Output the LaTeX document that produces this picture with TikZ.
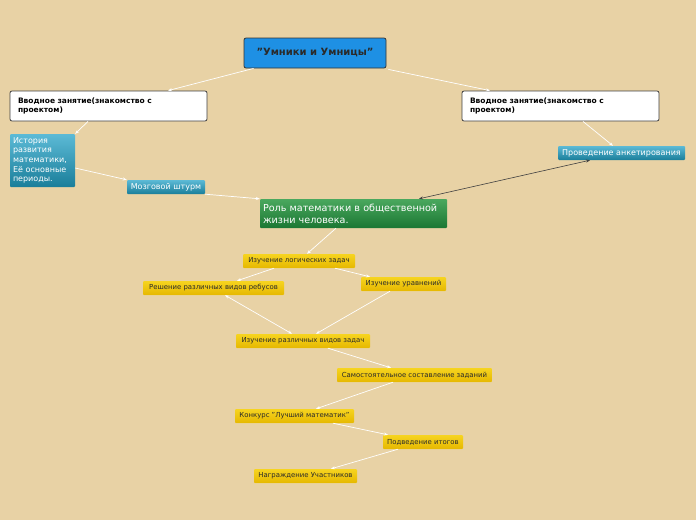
\documentclass[tikz,border=0pt]{standalone}
\usepackage{fontspec}
\setmainfont{DejaVu Sans}
\usetikzlibrary{arrows.meta}
\definecolor{bg}{HTML}{E8D2A5}
\definecolor{rootblue}{HTML}{1E90E4}
\definecolor{tealtop}{HTML}{5CBAD6}
\definecolor{tealbot}{HTML}{1A7E9A}
\definecolor{greentop}{HTML}{4AA85E}
\definecolor{greenbot}{HTML}{1B7733}
\definecolor{yeltop}{HTML}{F6D420}
\definecolor{yelbot}{HTML}{E6B800}
\definecolor{darktxt}{HTML}{2A2A2A}
\tikzset{
  rootbox/.style={draw=black!80, line width=0.8pt, fill=rootblue, rounded corners=2pt, minimum width=142pt, minimum height=30pt, inner sep=0pt, font=\bfseries\fontsize{10}{12}\selectfont, text=darktxt},
  introbox/.style={draw=black!75, line width=0.8pt, fill=white, rounded corners=2pt, minimum width=197pt, minimum height=30pt, inner xsep=8pt, inner ysep=0pt, text width=181pt, align=left, font=\bfseries\fontsize{7.5}{9.5}\selectfont, text=black},
  tealbox/.style={top color=tealtop, bottom color=tealbot, draw=none, rounded corners=1pt, inner sep=0pt, text=white, font=\fontsize{8}{9.7}\selectfont},
  greenbox/.style={top color=greentop, bottom color=greenbot, draw=none, rounded corners=1pt, inner sep=0pt, text=white, font=\fontsize{9.6}{12}\selectfont},
  yelbox/.style={top color=yeltop, bottom color=yelbot, draw=none, rounded corners=1pt, minimum height=14pt, inner sep=0pt, text=darktxt, font=\fontsize{6.9}{8}\selectfont,
    path picture={\draw[yeltop!35!white, line width=1pt] (path picture bounding box.south west) -- (path picture bounding box.south east);}},
  link/.style={draw=white, line width=0.7pt, -{Stealth[length=4pt,width=3pt]}},
  dlink/.style={draw=white, line width=0.7pt, {Stealth[length=4pt,width=3pt]}-{Stealth[length=4pt,width=3pt]}},
  darklink/.style={draw=black!75, line width=0.6pt, {Stealth[length=4pt,width=3pt]}-{Stealth[length=4pt,width=3pt]}}
}
\begin{document}
\begin{tikzpicture}[x=1pt,y=-1pt]
\fill[bg] (0,0) rectangle (696,520);
\useasboundingbox (0,0) rectangle (696,520);

\node[rootbox] (root) at (315,53) {"Умники и Умницы"};
\node[introbox] (introL) at (108.5,106) {Вводное занятие(знакомство с\\проектом)};
\node[introbox] (introR) at (560.5,106) {Вводное занятие(знакомство с\\проектом)};

\node[tealbox, minimum width=65pt, minimum height=53pt, text width=59pt, align=left] (hist) at (42.5,160.5) {История\\развития\\математики,\\Её основные\\периоды.};
\node[tealbox, minimum width=78pt, minimum height=14pt] (brain) at (166,187) {Мозговой штурм};
\node[tealbox, minimum width=127pt, minimum height=14pt] (survey) at (621.5,153) {Проведение анкетирования};

\node[greenbox, minimum width=187pt, minimum height=29pt, text width=181pt, align=left] (role) at (353.5,213.5) {Роль математики в общественной\\жизни человека.};

\node[yelbox, minimum width=112pt] (logic) at (299,261) {Изучение логических задач};
\node[yelbox, minimum width=141pt] (rebus) at (213.5,288) {Решение различных видов ребусов};
\node[yelbox, minimum width=85pt] (equ) at (403.5,284) {Изучение уравнений};
\node[yelbox, minimum width=134pt] (tasks) at (303,341) {Изучение различных видов задач};
\node[yelbox, minimum width=155pt] (self) at (414.5,375) {Самостоятельное составление заданий};
\node[yelbox, minimum width=119pt] (contest) at (294.5,416) {Конкурс "Лучший математик"};
\node[yelbox, minimum width=80pt] (sum) at (423,442) {Подведение итогов};
\node[yelbox, minimum width=103pt] (award) at (305.5,476) {Награждение Участников};

\draw[link] (root.south west) ++(10,0) -- (introL.north -| 168,0);
\draw[link] (root.south east) ++(2,1) -- (introR.north -| 490,0);
\draw[link] (introL.south -| 88,0) -- (hist.north east);
\draw[link] (introR.south -| 583,0) -- (survey.north -| 613,0);
\draw[link] (hist.east |- 0,168) -- (brain.north west);
\draw[link] (brain.south east) -- (role.north west);
\draw[darklink] (survey.south -| 590,0) -- (role.north -| 419,0);
\draw[link] (role.south -| 336,0) -- (logic.north -| 307,0);
\draw[link] (logic.south -| 274,0) -- (rebus.north -| 237,0);
\draw[link] (logic.south -| 335,0) -- (equ.north -| 370,0);
\draw[link] (equ.south -| 390,0) -- (tasks.north -| 316,0);
\draw[dlink] (tasks.north -| 292,0) -- (rebus.south -| 225,0);
\draw[link] (tasks.south -| 328,0) -- (self.north -| 391,0);
\draw[link] (self.south -| 393,0) -- (contest.north -| 316,0);
\draw[link] (contest.south -| 333,0) -- (sum.north -| 388,0);
\draw[link] (sum.south -| 398,0) -- (award.north -| 331,0);
\end{tikzpicture}
\end{document}
